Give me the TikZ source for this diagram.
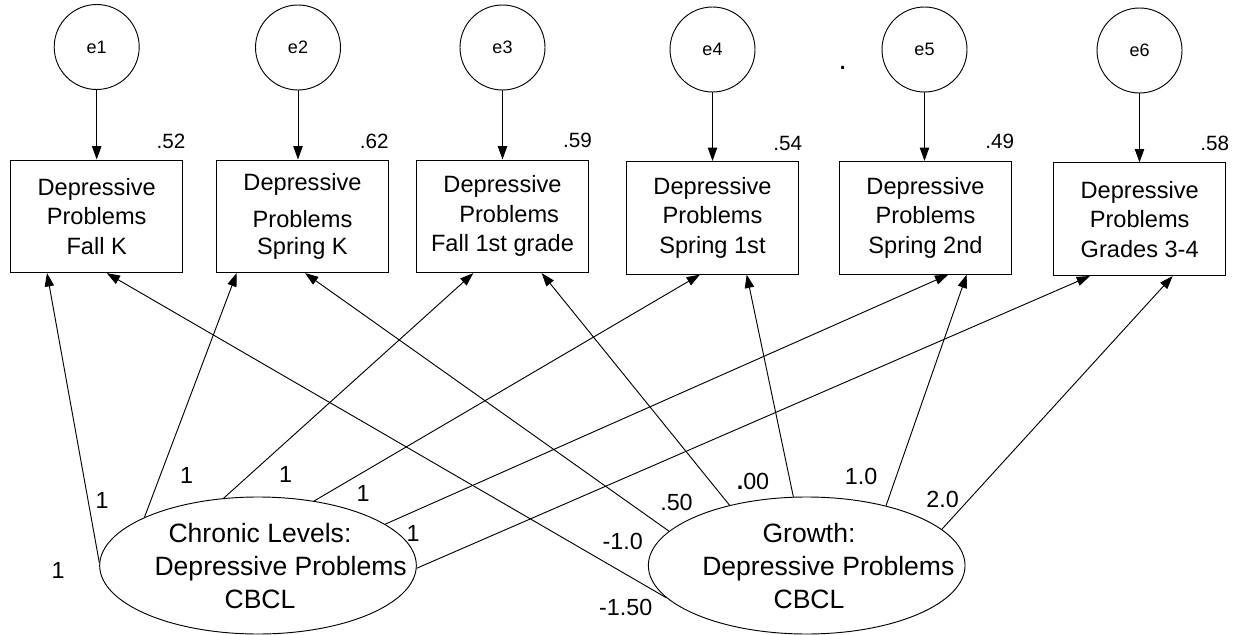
\documentclass[tikz,border=0pt]{standalone}
\usepackage{fontspec}
\setmainfont{Liberation Sans}
\usetikzlibrary{arrows.meta,shapes.geometric,calc}
\begin{document}
\begin{tikzpicture}[x=0.75pt,y=-0.75pt,line width=0.7pt,
  >={Triangle[length=10pt,width=7pt]},
  obs/.style={draw,rectangle,minimum width=129pt,minimum height=84.5pt,inner sep=0pt,align=center,font=\fontsize{17.7}{22.1}\selectfont},
  err/.style={draw,circle,minimum size=63.75pt,inner sep=0pt,font=\fontsize{13.5}{15}\selectfont},
  lat/.style={draw,ellipse,minimum width=237.5pt,minimum height=102.75pt,inner sep=0pt},
  lattext/.style={align=center,inner sep=0pt,font=\fontsize{19.9}{24.75}\selectfont},
  rsq/.style={inner sep=0pt,font=\fontsize{15.5}{18}\selectfont},
  wt/.style={inner sep=0pt,font=\fontsize{17.5}{21}\selectfont}]
\useasboundingbox (0,0) rectangle (1246,635);

% error terms
\node[err] (e1) at (96.7,47) {e1};
\node[err] (e2) at (298,47.5) {e2};
\node[err] (e3) at (502.5,47.5) {e3};
\node[err] (e4) at (712.5,49.5) {e4};
\node[err] (e5) at (924.5,49.5) {e5};
\node[err] (e6) at (1139.5,50.5) {e6};
\node[inner sep=0pt,font=\fontsize{22}{24}\selectfont] (dot) at (842.7,68.3) {.};

% observed
\node[obs] (b1) at (96.7,216.3) {Depressive\\Problems\\Fall K};
\node[obs] (b2) at (302.5,216.3) {Depressive\\[6pt]Problems\\[-2pt]Spring K};
\node[obs] (b3) at (502.5,216.3) {Depressive\\\hspace*{10pt}Problems\\Fall 1st grade};
\node[obs] (b4) at (712.5,217.8) {Depressive\\Problems\\Spring 1st};
\node[obs] (b5) at (925.5,217.8) {Depressive\\Problems\\Spring 2nd};
\node[obs] (b6) at (1139.7,219.2) {Depressive\\Problems\\Grades 3-4};

% R-squared
\node[rsq] (r1) at (171,141) {.52};
\node[rsq] (r2) at (374.3,141) {.62};
\node[rsq] (r3) at (577.5,140) {.59};
\node[rsq] (r4) at (787.8,143.3) {.54};
\node[rsq] (r5) at (999.7,141.7) {.49};
\node[rsq] (r6) at (1214.7,143.3) {.58};

% latent
\node[lat] (C) at (258,565.5) {};
\node[lat] (G) at (806.7,565.5) {};
\node[lattext] (Ct) at (260,566.5) {Chronic Levels:\\\hspace*{31pt}Depressive Problems\\CBCL};
\node[lattext] (Gt) at (809,566.5) {Growth:\\\hspace*{29pt}Depressive Problems\\CBCL};

% error arrows
\foreach \i in {1,...,6} \draw[->] (e\i) -- (e\i |- b\i.north);

% chronic loadings
\draw[->] (C.179.1) -- ($(b1.south)+(-49.7,0)$);
\draw[->] (C.157.9) -- ($(b2.south)+(-65.8,0)$);
\draw[->] (C.117.3) -- ($(b3.south)+(-29.2,0)$);
\draw[->] (C.49.0) -- ($(b4.south)+(-12.5,0)$);
\draw[->] (C.18.9) -- ($(b5.south)+(22.8,0)$);
\draw[->] (C.-1.9) -- ($(b6.south)+(-49.7,0)$);

% growth loadings
\draw[->] (G.193.0) -- ($(b1.south)+(10,0)$);
\draw[->] (G.166.7) -- ($(b2.south)+(2.5,0)$);
\draw[->] (G.142.0) -- ($(b3.south)+(39.2,0)$);
\draw[->] (G.101.5) -- ($(b4.south)+(34.2,0)$);
\draw[->] (G.37.3) -- ($(b5.south)+(41.2,0)$);
\draw[->] (G.15.2) -- ($(b6.south)+(33,0)$);

% chronic weights
\node[wt] (c1) at (58,570) {1};
\node[wt] (c2) at (102,500) {1};
\node[wt] (c3) at (186.5,475) {1};
\node[wt] (c4) at (285.5,474) {1};
\node[wt] (c5) at (363,493) {1};
\node[wt] (c6) at (413,533) {1};

% growth weights
\node[wt] (g1) at (625.8,607) {-1.50};
\node[wt] (g2) at (622.7,541.7) {-1.0};
\node[wt] (g3) at (676.5,502.5) {.50};
\node[wt] (g4) at (753,481) {\textbf{.}00};
\node[wt] (g5) at (861,476.7) {1.0};
\node[wt] (g6) at (942.5,499) {2.0};
\end{tikzpicture}
\end{document}
